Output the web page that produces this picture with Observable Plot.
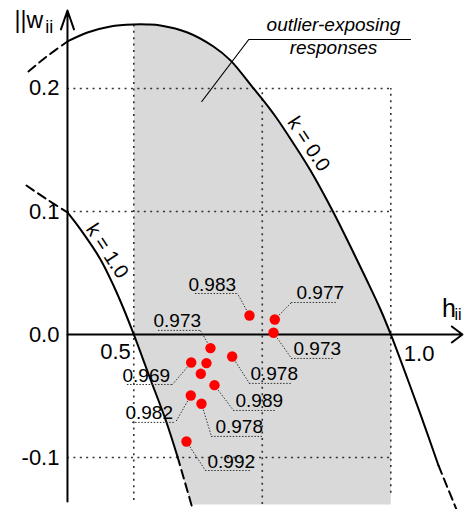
<!DOCTYPE html>
<html><head><meta charset="utf-8">
<script src="https://cdn.jsdelivr.net/npm/d3@7"></script>
<script src="https://cdn.jsdelivr.net/npm/@observablehq/plot@0.6"></script>
<style>
html,body{margin:0;padding:0;background:#fff;}
#chart svg{display:block;}
</style></head><body><div id="chart"></div>
<script>
// ---- data (h_ii on x, w_ii on y) ----
const k0H = [0.2951,0.3282,0.3710,0.4099,0.4547,0.5000,0.5267,0.5519,0.6045,0.6550,0.6881,0.7329,0.7504,0.7757,0.8107,0.8438,0.8885,0.9216,0.9527,0.9800,1.0000,1.0286,1.0578,1.0928,1.1278];
const k0W = [0.2138,0.2252,0.2382,0.2455,0.2504,0.2520,0.2520,0.2512,0.2455,0.2341,0.2228,0.2000,0.1911,0.1772,0.1553,0.1333,0.0992,0.0715,0.0447,0.0203,0.0000,-0.0317,-0.0650,-0.1065,-0.1423];
const k1H = [0.2912,0.3282,0.3710,0.3963,0.4352,0.4605,0.4800,0.5000,0.5325,0.5617,0.5850,0.6142];
const k1W = [0.1211,0.1106,0.0992,0.0854,0.0610,0.0398,0.0211,0.0000,-0.0366,-0.0691,-0.0992,-0.1415];

const pointH = [0.7251,0.7743,0.7718,0.6492,0.6914,0.6117,0.6414,0.6304,0.6570,0.6109,0.6317,0.6025];
const pointW = [0.0154,0.0122,0.0014,-0.0111,-0.0179,-0.0228,-0.0233,-0.0320,-0.0412,-0.0496,-0.0563,-0.0870];

const labelText = ["0.983","0.977","0.973","0.973","0.978","0.989","0.978","0.992","0.969","0.982"];
const labelOf   = [0,1,2,3,4,8,10,11,5,9];
const labelH    = [0.6064,0.8165,0.8107,0.5383,0.7270,0.6979,0.6589,0.6434,0.4780,0.4838];
const labelW    = [0.0333,0.0260,-0.0195,0.0033,-0.0398,-0.0618,-0.0829,-0.1106,-0.0407,-0.0715];
const lineFromH = [0.6200,0.8068,0.8068,0.5480,0.7251,0.6940,0.6512,0.6395,0.4877,0.4975];
const lineToH   = [0.7017,0.8944,0.8885,0.6298,0.8068,0.7757,0.7504,0.7270,0.5753,0.5811];

const yTicks = [0.2, 0.1, 0.0, -0.1];
const yTickLabels = ["0.2","0.1","0.0","-0.1"];
const xTicks = [0.5, 1.0];
const xTickLabels = ["0.5","1.0"];

const gridV = [{h:0.5, a:-0.1350, b:0.2520},{h:0.75, a:-0.1382, b:0.2000},{h:1.0, a:-0.1290, b:0.2000}];
const gridHw = [0.2, 0.1, -0.1];
const yAxisH = 0.3710;
const grayBottom = -0.1382;
const grayBottomLeftH = 0.6115;

// ---- derived tables ----
const k0 = k0H.map((h,i)=>({h, w:k0W[i]}));
const k1 = k1H.map((h,i)=>({h, w:k1W[i]}));
const pts = pointH.map((h,i)=>({h, w:pointW[i]}));
const labels = labelText.map((t,i)=>{
  const p = pts[labelOf[i]];
  const endH = p.h < lineFromH[i] ? lineFromH[i] : lineToH[i];
  return {t, h:labelH[i], w:labelW[i], a:lineFromH[i], b:lineToH[i], ph:p.h, pw:p.w, eh:endH};
});
const grayPoly = [
  ...k0.filter(d=>d.h>=0.5 && d.h<=1.0),
  {h:1.0, w:grayBottom},
  {h:grayBottomLeftH, w:grayBottom},
  ...k1.filter(d=>d.w<=0 && d.w>=grayBottom).reverse()
];
const gridH = gridHw.map(w=>({w, a:yAxisH, b:1.0}));

const font = "'Liberation Sans', Arial, Helvetica, sans-serif";
const dotted = {stroke:"#333", strokeWidth:1.6, strokeDasharray:"2,4.4"};
const fine = {stroke:"#333", strokeWidth:1, strokeDasharray:"1.5,1.6"};

const plot = Plot.plot({
  width: 466, height: 509, margin: 0,
  style: {fontFamily: font, background: "#fff"},
  x: {domain: [0.2407, 1.1473], axis: null},
  y: {domain: [-0.1423, 0.2715], axis: null},
  marks: [
    Plot.line(grayPoly, {x:"h", y:"w", fill:"#d9d9d9", stroke:"none"}),
    Plot.ruleX(gridV, {x:"h", y1:"a", y2:"b", ...dotted}),
    Plot.ruleY(gridH, {y:"w", x1:"a", x2:"b", ...dotted}),
    // axes
    Plot.arrow([{x1:yAxisH, x2:1.1394, y:0}], {x1:"x1", x2:"x2", y1:"y", y2:"y", stroke:"#000", strokeWidth:2, headAngle:74, headLength:10}),
    Plot.arrow([{x:yAxisH, y1:-0.1358, y2:0.2634}], {x1:"x", x2:"x", y1:"y1", y2:"y2", stroke:"#000", strokeWidth:2, headAngle:38, headLength:15}),
    // curves
    Plot.line(k0.slice(2,24), {x:"h", y:"w", stroke:"#000", strokeWidth:2, curve:"catmull-rom"}),
    Plot.line(k0.slice(0,3), {x:"h", y:"w", stroke:"#000", strokeWidth:2, strokeDasharray:"9,5", curve:"catmull-rom"}),
    Plot.line(k0.slice(23), {x:"h", y:"w", stroke:"#000", strokeWidth:2, strokeDasharray:"9,5"}),
    Plot.line(k1.slice(2,11), {x:"h", y:"w", stroke:"#000", strokeWidth:2, curve:"catmull-rom"}),
    Plot.line(k1.slice(0,3), {x:"h", y:"w", stroke:"#000", strokeWidth:2, strokeDasharray:"9,5", curve:"catmull-rom"}),
    Plot.line(k1.slice(10), {x:"h", y:"w", stroke:"#000", strokeWidth:2, strokeDasharray:"9,5"}),
    // curve labels
    Plot.text([{h:0.8401, w:0.1549, t:"k = 0.0"}], {x:"h", y:"w", text:"t", rotate:57, fontSize:20, fontFamily:font, fill:"#000"}),
    Plot.text([{h:0.4480, w:0.0680, t:"k = 1.0"}], {x:"h", y:"w", text:"t", rotate:57, fontSize:20, fontFamily:font, fill:"#000"}),
    // annotation
    Plot.line([{h:0.6323,w:0.1894},{h:0.7237,w:0.2398},{h:1.0383,w:0.2398}], {x:"h", y:"w", stroke:"#000", strokeWidth:1.2}),
    Plot.text([{h:0.8885,w:0.2463,t:"outlier-exposing"},{h:0.8885,w:0.2276,t:"responses"}], {x:"h", y:"w", text:"t", lineAnchor:"bottom", fontSize:19, fontStyle:"italic", fontFamily:font, fill:"#000"}),
    // label leaders and underlines
    Plot.link(labels, {x1:"ph", y1:"pw", x2:"eh", y2:"w", ...fine}),
    Plot.ruleY(labels, {y:"w", x1:"a", x2:"b", ...fine}),
    Plot.dot(pts, {x:"h", y:"w", r:5.2, fill:"#ff0000", stroke:"none"}),
    Plot.text(labels, {x:"h", y:"w", text:"t", textAnchor:"start", lineAnchor:"bottom", dy:-3, fontSize:19, fontFamily:font, fill:"#000"}),
    // tick labels
    Plot.text(yTicks.map((v,i)=>({v, t:yTickLabels[i]})), {x:()=>yAxisH, y:"v", text:"t", textAnchor:"end", dx:-8, fontSize:22, fontFamily:font, fill:"#000"}),
    Plot.text([{v:xTicks[0], t:xTickLabels[0]}], {x:"v", y:()=>0, text:"t", textAnchor:"end", lineAnchor:"top", dx:-3, dy:9, fontSize:22, fontFamily:font, fill:"#000"}),
    Plot.text([{v:xTicks[1], t:xTickLabels[1]}], {x:"v", y:()=>0, text:"t", textAnchor:"start", lineAnchor:"top", dx:13, dy:11, fontSize:22, fontFamily:font, fill:"#000"}),
    // axis titles
    Plot.text([{h:0.2680, w:0.2488, t:"||w"}], {x:"h", y:"w", text:"t", textAnchor:"start", lineAnchor:"bottom", fontSize:23, fontFamily:font, fill:"#000"}),
    Plot.text([{h:0.3280, w:0.2447, t:"ii"}], {x:"h", y:"w", text:"t", textAnchor:"start", lineAnchor:"bottom", fontSize:18, fontFamily:font, fill:"#000"}),
    Plot.text([{h:1.0996, w:0.0138, t:"h"}], {x:"h", y:"w", text:"t", textAnchor:"start", lineAnchor:"bottom", fontSize:25, fontFamily:font, fill:"#000"}),
    Plot.text([{h:1.1239, w:0.0114, t:"ii"}], {x:"h", y:"w", text:"t", textAnchor:"start", lineAnchor:"bottom", fontSize:16, fontFamily:font, fill:"#000"})
  ]
});
document.getElementById("chart").append(plot);
</script>
</body></html>
